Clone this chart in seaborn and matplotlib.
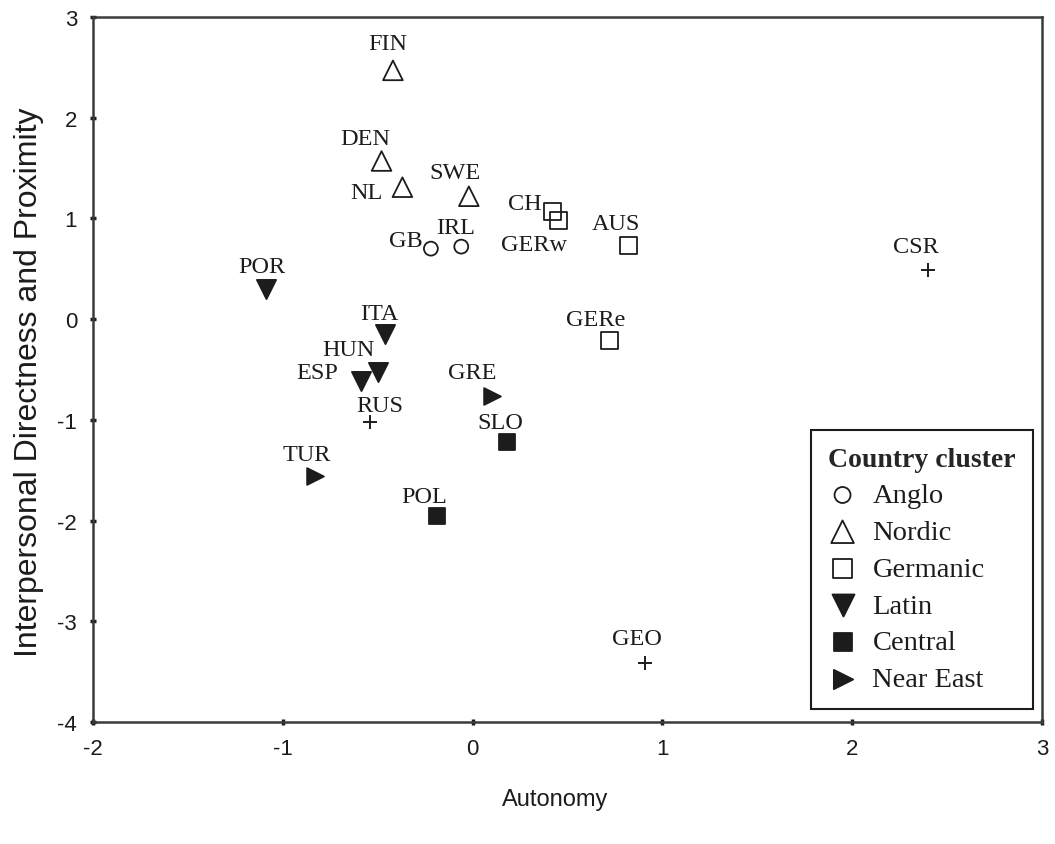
import numpy as np
import pandas as pd
import seaborn as sns
import matplotlib.pyplot as plt

# country scores
countries = ['GB', 'IRL',
             'FIN', 'DEN', 'NL', 'SWE',
             'CH', 'GERw', 'AUS', 'GERe',
             'POR', 'ITA', 'HUN', 'ESP',
             'SLO', 'POL',
             'GRE', 'TUR',
             'RUS', 'CSR', 'GEO']
cluster = ['Anglo', 'Anglo',
           'Nordic', 'Nordic', 'Nordic', 'Nordic',
           'Germanic', 'Germanic', 'Germanic', 'Germanic',
           'Latin', 'Latin', 'Latin', 'Latin',
           'Central', 'Central',
           'Near East', 'Near East',
           'none', 'none', 'none']
autonomy = [-0.22, -0.06,
            -0.42, -0.48, -0.37, -0.02,
            0.42, 0.45, 0.82, 0.72,
            -1.09, -0.46, -0.50, -0.59,
            0.18, -0.19,
            0.10, -0.83,
            -0.54, 2.40, 0.91]
proximity = [0.70, 0.72,
             2.47, 1.57, 1.31, 1.22,
             1.07, 0.98, 0.73, -0.21,
             0.30, -0.15, -0.52, -0.61,
             -1.22, -1.95,
             -0.76, -1.56,
             -1.02, 0.49, -3.41]

x_ticks = [-2, -1, 0, 1, 2, 3]
y_ticks = [-4, -3, -2, -1, 0, 1, 2, 3]

df = pd.DataFrame({'country': countries, 'cluster': cluster,
                   'autonomy': autonomy, 'proximity': proximity})

ink = '#1c1c1c'
# marker, size, filled
styles = {'Anglo': ('o', 100, False),
          'Nordic': ('^', 200, False),
          'Germanic': ('s', 150, False),
          'Latin': ('v', 190, True),
          'Central': ('s', 135, True),
          'Near East': ('>', 145, True)}

# label offsets (points) relative to each marker
offsets = {'FIN': (-4, 19), 'DEN': (-12, 16), 'NL': (-26, -4), 'SWE': (-10, 17),
           'CH': (-20, 6), 'GERw': (-17, -17), 'AUS': (-9, 16), 'GB': (-18, 6),
           'IRL': (-4, 14), 'CSR': (-9, 17), 'POR': (-3, 16), 'ITA': (-4, 15),
           'GERe': (-10, 15), 'HUN': (-21, 16), 'ESP': (-31, 6), 'GRE': (-14, 17),
           'RUS': (7, 12), 'SLO': (-5, 14), 'TUR': (-6, 16), 'POL': (-9, 14),
           'GEO': (-6, 17)}

sns.set_style('white')
plt.rcParams['font.family'] = ['Liberation Sans', 'DejaVu Sans']
plt.rcParams['axes.unicode_minus'] = False

fig = plt.figure(figsize=(10.55, 8.45), dpi=100)
ax = fig.add_axes([0.0882, 0.1444, 0.8995, 0.8343])

for name, (mk, size, filled) in styles.items():
    sub = df[df['cluster'] == name]
    sns.scatterplot(data=sub, x='autonomy', y='proximity', marker=mk, s=size,
                    facecolor=ink if filled else 'none', edgecolor=ink,
                    linewidth=1.3, label=name, ax=ax, zorder=3)

other = df[df['cluster'] == 'none']
sns.scatterplot(data=other, x='autonomy', y='proximity', marker='+', s=110,
                color=ink, linewidth=1.4, legend=False, ax=ax, zorder=3)

for _, row in df.iterrows():
    ax.annotate(row['country'], (row['autonomy'], row['proximity']),
                xytext=offsets[row['country']], textcoords='offset points',
                ha='center', va='center', fontsize=17.5,
                family='Liberation Serif', color=ink)

ax.set_xlim(-2, 3)
ax.set_ylim(-4, 3)
ax.set_xticks(x_ticks)
ax.set_yticks(y_ticks)
ax.tick_params(bottom=True, left=True, direction='inout', length=5, width=2.5,
               color=ink, labelsize=16, labelcolor=ink, pad=9)
for sp in ax.spines.values():
    sp.set_visible(True)
    sp.set_linewidth(1.8)
    sp.set_color('#3a3a3a')

ax.set_xlabel('Autonomy', fontsize=17, color=ink)
ax.set_ylabel('Interpersonal Directness and Proximity', fontsize=23, color=ink)
ax.xaxis.set_label_coords(0.487, -0.094)
ax.yaxis.set_label_coords(-0.052, 0.484)

leg = ax.legend(title='Country cluster', loc='lower right',
                bbox_to_anchor=(0.9905, 0.018), borderaxespad=0,
                frameon=True, fancybox=False, edgecolor=ink, framealpha=1,
                prop={'family': 'Liberation Serif', 'size': 20.5},
                title_fontproperties={'family': 'Liberation Serif',
                                      'size': 20, 'weight': 'bold'},
                alignment='left', handlelength=1.0, handletextpad=0.55,
                labelspacing=0.38, borderpad=0.6, markerscale=1.15)
leg.get_frame().set_linewidth(1.5)
for t in leg.get_texts():
    t.set_color(ink)

fig.savefig('out.png', dpi=100)
